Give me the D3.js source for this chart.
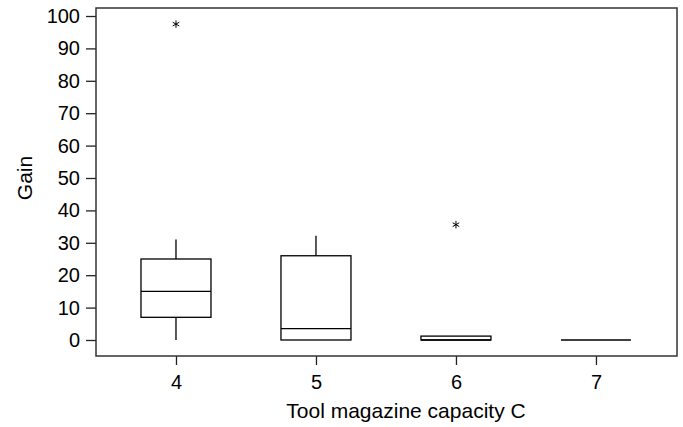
<!DOCTYPE html>
<html>
<head>
<meta charset="utf-8">
<script src="https://cdn.jsdelivr.net/npm/d3@7"></script>
<style>
  body { margin: 0; background: #fff; }
  text { font-family: Arial, "Liberation Sans", sans-serif; fill: #000; }
</style>
</head>
<body>
<svg id="chart" width="683" height="427"></svg>
<script>
// box plot data
var categories = [4, 5, 6, 7];
var whiskerLow = [0, 0, 0, 0];
var q1Values = [7, 0, 0, 0];
var medians = [15, 3.5, 0, 0];
var q3Values = [25, 26, 1.2, 0];
var whiskerHigh = [31, 32.2, 1.2, 0];
var outliers = [{c: 4, v: 97.5}, {c: 6, v: 35.6}];
var yTicks = [0, 10, 20, 30, 40, 50, 60, 70, 80, 90, 100];

var svg = d3.select("#chart");
var margin = {left: 96, top: 8, right: 6, bottom: 71};
var width = +svg.attr("width") - margin.left - margin.right,
    height = +svg.attr("height") - margin.top - margin.bottom;

var x = d3.scaleLinear().domain([3.4286, 7.579]).range([0, width]);
var y = d3.scaleLinear().domain([-4.94, 102.47]).range([height, 0]);

var g = svg.append("g").attr("transform", "translate(" + margin.left + "," + margin.top + ")");

// y axis
var yAxis = g.append("g")
    .call(d3.axisLeft(y).tickValues(yTicks).tickSize(10).tickPadding(6));
yAxis.select(".domain").remove();
yAxis.selectAll("line").attr("stroke", "#222").attr("stroke-width", 1.3);
yAxis.selectAll("text").attr("font-size", 20).attr("font-family", "Arial, 'Liberation Sans', sans-serif");

// x axis
var xAxis = g.append("g")
    .attr("transform", "translate(0," + height + ")")
    .call(d3.axisBottom(x).tickValues(categories).tickFormat(d3.format("d")).tickSize(9).tickPadding(10));
xAxis.select(".domain").remove();
xAxis.selectAll("line").attr("stroke", "#222").attr("stroke-width", 1.3);
xAxis.selectAll("text").attr("font-size", 20).attr("font-family", "Arial, 'Liberation Sans', sans-serif");

// frame
g.append("rect")
    .attr("width", width).attr("height", height)
    .attr("fill", "none").attr("stroke", "#333").attr("stroke-width", 1.5);

var half = 0.25; // half box width in category units
var boxes = g.selectAll(".box").data(categories).enter().append("g").attr("class", "box");

boxes.append("line")
    .attr("x1", function(d) { return x(d); }).attr("x2", function(d) { return x(d); })
    .attr("y1", function(d, i) { return y(q3Values[i]); })
    .attr("y2", function(d, i) { return y(whiskerHigh[i]); })
    .attr("stroke", "#000").attr("stroke-width", 1.3);
boxes.append("line")
    .attr("x1", function(d) { return x(d); }).attr("x2", function(d) { return x(d); })
    .attr("y1", function(d, i) { return y(q1Values[i]); })
    .attr("y2", function(d, i) { return y(whiskerLow[i]); })
    .attr("stroke", "#000").attr("stroke-width", 1.3);
boxes.append("rect")
    .attr("x", function(d) { return x(d - half); })
    .attr("width", function(d) { return x(d + half) - x(d - half); })
    .attr("y", function(d, i) { return y(q3Values[i]); })
    .attr("height", function(d, i) { return y(q1Values[i]) - y(q3Values[i]); })
    .attr("fill", "none").attr("stroke", "#000").attr("stroke-width", 1.3);
boxes.append("line")
    .attr("x1", function(d) { return x(d - half); }).attr("x2", function(d) { return x(d + half); })
    .attr("y1", function(d, i) { return y(medians[i]); })
    .attr("y2", function(d, i) { return y(medians[i]); })
    .attr("stroke", "#000").attr("stroke-width", 1.3);

// outliers
g.selectAll(".outlier").data(outliers).enter().append("path")
    .attr("class", "outlier")
    .attr("d", d3.symbol(d3.symbolAsterisk).size(40))
    .attr("transform", function(d) { return "translate(" + x(d.c) + "," + y(d.v) + ")"; })
    .attr("fill", "none").attr("stroke", "#000").attr("stroke-width", 1);

// titles
svg.append("text")
    .attr("transform", "translate(32,178) rotate(-90)")
    .attr("text-anchor", "middle")
    .attr("font-size", 21)
    .text("Gain");
svg.append("text")
    .attr("x", 406)
    .attr("y", 418)
    .attr("text-anchor", "middle")
    .attr("font-size", 21)
    .text("Tool magazine capacity C");
</script>
</body>
</html>
